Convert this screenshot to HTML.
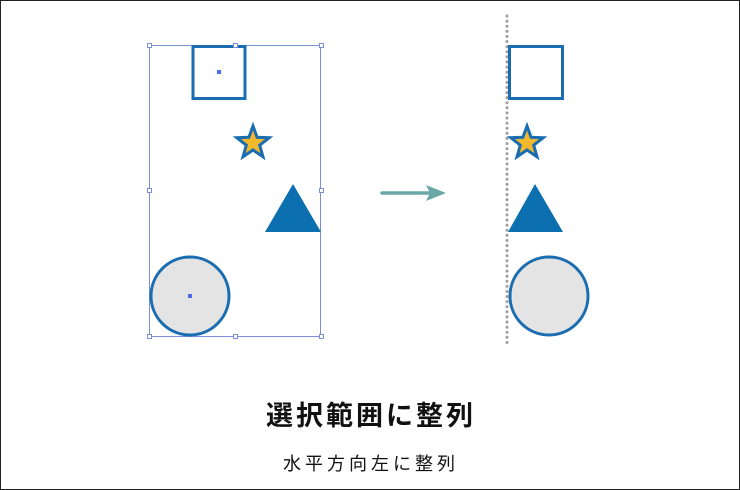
<!DOCTYPE html>
<html><head><meta charset="utf-8"><style>
body{margin:0;background:#fff;}
.w{position:relative;width:738px;height:488px;border:1px solid #222;overflow:hidden;}
svg{position:absolute;left:-1px;top:-1px;}
.t{position:absolute;left:0;width:740px;text-align:center;font-family:"Liberation Sans","Noto Sans CJK JP",sans-serif;color:#111;}
</style></head><body><div class="w">
<svg width="740" height="490" viewBox="0 0 740 490">
<defs>
<g id="star"><polygon points="253,126 257.1,137.3 269.2,137.7 259.7,145.2 263,156.8 253,150 243,156.8 246.3,145.2 236.8,137.7 248.9,137.3" fill="#f2b92e" stroke="#1b6db1" stroke-width="3" stroke-linejoin="miter"/></g>
</defs>
<rect x="149.5" y="45.5" width="171" height="291" fill="none" stroke="#7a8fd6" stroke-width="1"/>
<rect x="193" y="46.5" width="52" height="52" fill="#fff" stroke="#1b6db1" stroke-width="3"/>
<rect x="217" y="70" width="4" height="4" fill="#4a6ef0"/>
<use href="#star"/>
<polygon points="293,184 321,232 265,232" fill="#0c6faf"/>
<circle cx="190" cy="296" r="39" fill="#e4e4e4" stroke="#1b6db1" stroke-width="3"/>
<rect x="188" y="294" width="4" height="4" fill="#4a6ef0"/>
<g fill="#fff" stroke="#7a8fd6" stroke-width="1">
<rect x="147.5" y="43.5" width="4" height="4"/><rect x="233.5" y="43.5" width="4" height="4"/><rect x="319.5" y="43.5" width="4" height="4"/>
<rect x="147.5" y="188.5" width="4" height="4"/><rect x="319.5" y="188.5" width="4" height="4"/>
<rect x="147.5" y="334.5" width="4" height="4"/><rect x="233.5" y="334.5" width="4" height="4"/><rect x="319.5" y="334.5" width="4" height="4"/>
</g>
<line x1="382" y1="193" x2="430" y2="193" stroke="#6aa8a8" stroke-width="3.5" stroke-linecap="round"/>
<polygon points="426,185 446,193 426,201 430,193" fill="#6aa8a8"/>
<line x1="507" y1="16" x2="507" y2="345" stroke="#a0a0a0" stroke-width="3" stroke-dasharray="0.1 5" stroke-linecap="round"/>
<rect x="509.5" y="46.5" width="53" height="52" fill="none" stroke="#1b6db1" stroke-width="3"/>
<g transform="translate(274,0)"><use href="#star"/></g>
<polygon points="535,184 563,232 508,232" fill="#0c6faf"/>
<circle cx="549" cy="296" r="39" fill="#e4e4e4" stroke="#1b6db1" stroke-width="3"/>
</svg>
<div class="t" style="top:393px;font-size:27px;font-weight:bold;letter-spacing:3px;">選択範囲に整列</div>
<div class="t" style="top:449px;font-size:18px;letter-spacing:4px;">水平方向左に整列</div>
</div></body></html>
